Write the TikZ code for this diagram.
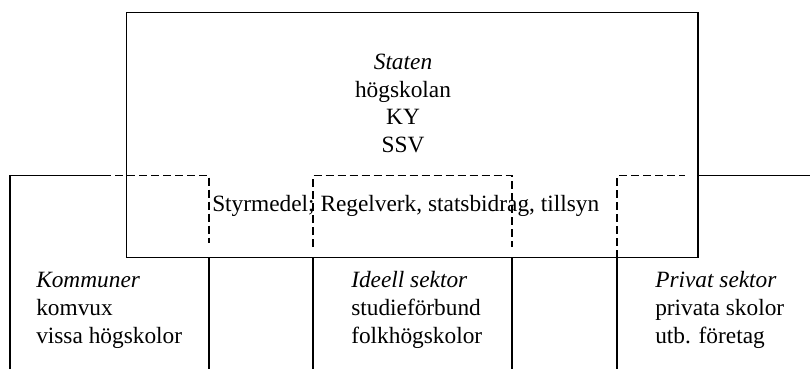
\documentclass[tikz,border=0pt]{standalone}
\usepackage{fontspec}
\setmainfont{Liberation Serif}
\begin{document}
\begin{tikzpicture}[x=0.75pt,y=-0.75pt,
  solidline/.style={line width=0.8pt},
  dashline/.style={line width=0.8pt, dash pattern=on 6pt off 3pt},
  txt/.style={inner sep=0pt, anchor=base, font=\fontsize{17.5pt}{21pt}\selectfont},
  ltxt/.style={txt, anchor=base west}]
\useasboundingbox (0,0) rectangle (810,369);
% Staten box
\coordinate (stNW) at (126.7,12.7);
\coordinate (stSE) at (698,257.5);
\draw[solidline] (stNW) rectangle (stSE);
% Kommuner
\coordinate (k1) at (10,369);
\coordinate (k2) at (10,175.7);
\coordinate (k3) at (103,175.7);
\coordinate (k4) at (209,175.7);
\coordinate (k5) at (209,243);
\coordinate (k6) at (209,257.5);
\coordinate (k7) at (209,369);
\draw[solidline] (k1) -- (k2) -- (k3);
\draw[dashline] (k3) -- (k4) -- (k5);
\draw[solidline] (k6) -- (k7);
% Ideell sektor
\coordinate (i1) at (313,247);
\coordinate (i2) at (313,175.7);
\coordinate (i3) at (512,175.7);
\coordinate (i4) at (512,247);
\draw[dashline] (i1) -- (i2) -- (i3) -- (i4);
\draw[solidline] (313,257.5) -- (313,369);
\draw[solidline] (512,257.5) -- (512,369);
% Privat sektor
\coordinate (p1) at (617,257.5);
\coordinate (p2) at (617,175.7);
\coordinate (p3) at (685,175.7);
\draw[dashline] (p1) -- (p2) -- (p3);
\draw[solidline] (617,257.5) -- (617,369);
\draw[solidline] (698,175.7) -- (810,175.7);
% Texts
\node[txt] (staten) at (403,69.5) {\itshape Staten};
\node[txt] (hogsk) at (403,97.2) {högskolan};
\node[txt] (ky) at (403,124.9) {KY};
\node[txt] (ssv) at (403,152.6) {SSV};
\node[ltxt] (styr) at (212,211) {Styrmedel; Regelverk, statsbidrag, tillsyn};
\node[ltxt] (komm) at (36,287) {\itshape Kommuner};
\node[ltxt] (komvux) at (36,315) {komvux};
\node[ltxt] (vissa) at (36,343) {vissa högskolor};
\node[ltxt] (ideell) at (351,287) {\itshape Ideell sektor};
\node[ltxt] (studie) at (351,315) {studieförbund};
\node[ltxt] (folk) at (351,343) {folkhögskolor};
\node[ltxt] (privat) at (655,287) {\itshape Privat sektor};
\node[ltxt] (privsk) at (655,315) {privata skolor};
\node[ltxt] (utb) at (655,343) {utb. företag};
\end{tikzpicture}
\end{document}
